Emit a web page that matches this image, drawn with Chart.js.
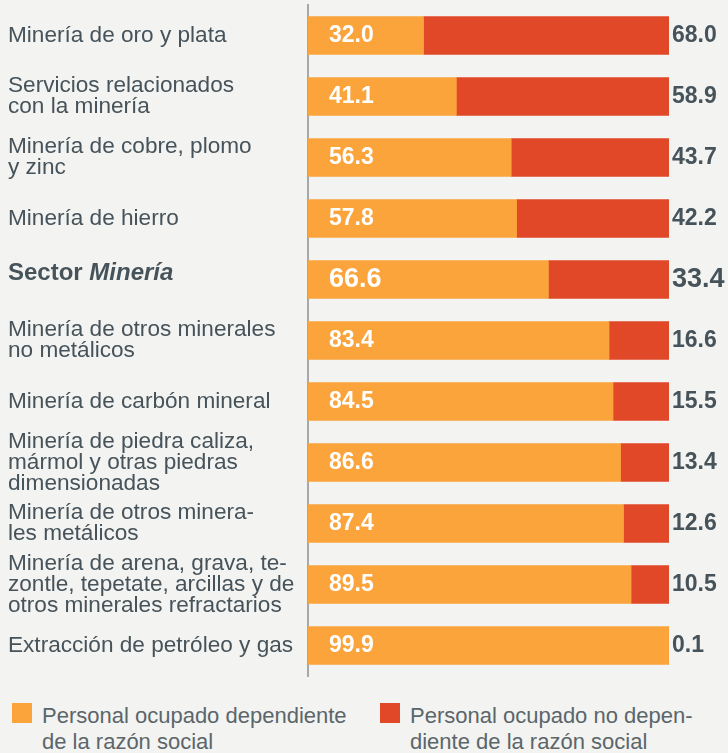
<!DOCTYPE html>
<html>
<head>
<meta charset="UTF-8" />
<title>Personal ocupado en minería</title>
<script src="https://cdn.jsdelivr.net/npm/chart.js@4"></script>
<style>
  html, body { margin: 0; padding: 0; background: #f3f3f1; }
  body { width: 728px; height: 753px; position: relative; overflow: hidden; font-family: "Liberation Sans", Arial, sans-serif; }
  #chart { position: absolute; left: 0; top: 0; }
  .leg-item { position: absolute; top: 703px; }
  .leg-item .sw { position: absolute; left: 0; top: 0; width: 20px; height: 20px; }
  .leg-item .tx { position: absolute; left: 30px; top: 0px; white-space: nowrap; font-size: 22px; line-height: 26px; color: #5b666b; }
</style>
</head>
<body>
<canvas id="chart" width="728" height="690"></canvas>
<div id="legend"></div>

<script>
// categorías (de arriba a abajo)
const categories = [
  'Minería de oro y plata',
  ['Servicios relacionados', 'con la minería'],
  ['Minería de cobre, plomo', 'y zinc'],
  'Minería de hierro',
  'Sector Minería',
  ['Minería de otros minerales', 'no metálicos'],
  'Minería de carbón mineral',
  ['Minería de piedra caliza,', 'mármol y otras piedras', 'dimensionadas'],
  ['Minería de otros minera-', 'les metálicos'],
  ['Minería de arena, grava, te-', 'zontle, tepetate, arcillas y de', 'otros minerales refractarios'],
  'Extracción de petróleo y gas'
]
const sectorIndex = 4

// porcentajes
const dependiente = [32.0, 41.1, 56.3, 57.8, 66.6, 83.4, 84.5, 86.6, 87.4, 89.5, 99.9]
const noDependiente = [68.0, 58.9, 43.7, 42.2, 33.4, 16.6, 15.5, 13.4, 12.6, 10.5, 0.1]

const seriesNames = [
  ['Personal ocupado dependiente', 'de la razón social'],
  ['Personal ocupado no depen-', 'diente de la razón social']
]

const ORANGE = '#faa43b'
const RED = '#e04828'
const DARK = '#46535a'
const FONT = '"Liberation Sans", Arial, sans-serif'

// etiquetas de valores: dentro (blanco) y a la derecha (gris)
const valueLabels = {
  id: 'valueLabels',
  afterDatasetsDraw(chart) {
    const ctx = chart.ctx
    const m0 = chart.getDatasetMeta(0)
    const m1 = chart.getDatasetMeta(1)
    ctx.save()
    ctx.textBaseline = 'middle'
    ctx.textAlign = 'left'
    m0.data.forEach((bar, i) => {
      const big = i === sectorIndex
      ctx.font = `bold ${big ? 27 : 23}px ${FONT}`
      ctx.fillStyle = '#ffffff'
      ctx.fillText(dependiente[i].toFixed(1), bar.base + 21, bar.y)
      const b = m1.data[i]
      ctx.fillStyle = DARK
      ctx.fillText(noDependiente[i].toFixed(1), b.x + 3, b.y)
    })
    // "Sector Minería" con Minería en cursiva
    const y = chart.scales.y.getPixelForTick(sectorIndex)
    ctx.fillStyle = DARK
    ctx.font = `bold 24px ${FONT}`
    ctx.fillText('Sector ', 8, y - 6)
    const w = ctx.measureText('Sector ').width
    ctx.font = `italic bold 24px ${FONT}`
    ctx.fillText('Minería', 8 + w, y - 6)
    ctx.restore()
  }
}

const chart = new Chart(document.getElementById('chart').getContext('2d'), {
  type: 'bar',
  data: {
    labels: categories,
    datasets: [
      { label: seriesNames[0], data: dependiente, backgroundColor: ORANGE, barThickness: 38 },
      { label: seriesNames[1], data: noDependiente, backgroundColor: RED, barThickness: 38 }
    ]
  },
  options: {
    indexAxis: 'y',
    responsive: false,
    animation: false,
    devicePixelRatio: 1,
    layout: { padding: { left: 8, right: 59, top: 5, bottom: 14 } },
    plugins: {
      legend: { display: false },
      tooltip: { enabled: false }
    },
    scales: {
      x: { stacked: true, min: 0, max: 100, display: false },
      y: {
        stacked: true,
        grid: { display: false },
        border: { display: true, color: '#a8a8a8', width: 2 },
        afterFit: (scale) => {
          scale.width = 300
          scale.paddingTop = 0
          scale.paddingBottom = 0
        },
        ticks: {
          crossAlign: 'far',
          autoSkip: false,
          color: (c) => c.index === sectorIndex ? 'rgba(0,0,0,0)' : DARK,
          font: { family: FONT, size: 22.6, lineHeight: 0.93 }
        }
      }
    }
  },
  plugins: [valueLabels]
})

// leyenda en HTML a partir de los datasets
const legend = document.getElementById('legend')
const legendX = [12, 380]
chart.data.datasets.forEach((ds, i) => {
  const item = document.createElement('div')
  item.className = 'leg-item'
  item.style.left = legendX[i] + 'px'
  item.innerHTML = `<span class="sw" style="background:${ds.backgroundColor}"></span><span class="tx">${ds.label.join('<br>')}</span>`
  legend.appendChild(item)
})
</script>
</body>
</html>
